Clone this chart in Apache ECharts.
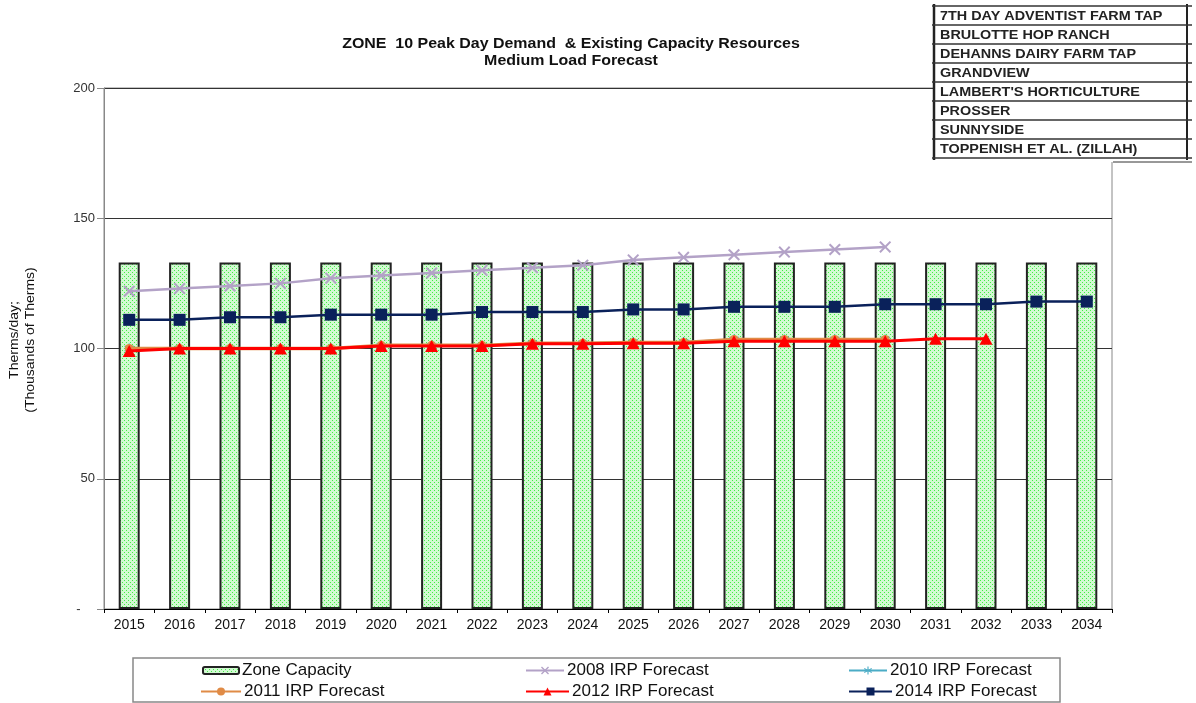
<!DOCTYPE html>
<html><head><meta charset="utf-8">
<script src="https://cdn.jsdelivr.net/npm/echarts@6/dist/echarts.min.js"></script>
<style>html,body{margin:0;padding:0;background:#fff}#c{width:1196px;height:703px}</style>
</head><body><div id="c"></div>
<script>
const years = ['2015','2016','2017','2018','2019','2020','2021','2022','2023','2024','2025','2026','2027','2028','2029','2030','2031','2032','2033','2034'];
const zoneCapacity = [133,133,133,133,133,133,133,133,133,133,133,133,133,133,133,133,133,133,133,133];
const irp2008 = [122,123,124,125,127,128,129,130,131,132,134,135,136,137,138,139];
const irp2010 = [100,100,100,100,100,101,101,101,102,102,102.5,102.5,103.5,103.5,103.5,103.5];
const irp2011 = [100,100,100,100,100,101.2,101.2,101.2,102,102,102.3,102.3,103.5,103.5,103.5,103.5];
const irp2012 = [99,100,100,100,100,101,101,101,101.8,101.8,102,102,102.8,102.8,102.8,102.8,103.7,103.7];
const irp2014 = [111,111,112,112,113,113,113,114,114,114,115,115,116,116,116,117,117,117,118,118];
const yTicks = ['-    ','50','100','150','200'];
const tableRows = ['7TH DAY ADVENTIST FARM TAP','BRULOTTE HOP RANCH','DEHANNS DAIRY FARM TAP','GRANDVIEW',"LAMBERT'S HORTICULTURE",'PROSSER','SUNNYSIDE','TOPPENISH ET AL. (ZILLAH)'];

const FONT = 'Liberation Sans, Arial, sans-serif';
const pc = document.createElement('canvas');
pc.width = 4; pc.height = 4;
const g = pc.getContext('2d');
g.fillStyle = '#d2fad2'; g.fillRect(0,0,4,4);
g.fillStyle = '#44ee44'; g.fillRect(0,0,1,1); g.fillRect(2,2,1,1);
const pattern = {image: pc, repeat: 'repeat'};

const xPath = 'path://M0,1.2L1.2,0L5,3.8L8.8,0L10,1.2L6.2,5L10,8.8L8.8,10L5,6.2L1.2,10L0,8.8L3.8,5Z';
const starPath = 'path://M4.4,0H5.6V3.6L8.7,1.8L9.3,2.8L6.2,4.5L9.3,6.2L8.7,7.2L5.6,5.4V9H4.4V5.4L1.3,7.2L0.7,6.2L3.8,4.5L0.7,2.8L1.3,1.8L4.4,3.6Z';

const chart = echarts.init(document.getElementById('c'), null, {renderer:'canvas'});

const legendPos = [
  {name:'Zone Capacity', left:202, top:662, w:36, h:7},
  {name:'2008 IRP Forecast', left:525, top:662, w:38, h:10},
  {name:'2010 IRP Forecast', left:848, top:662, w:38, h:10},
  {name:'2011 IRP Forecast', left:200, top:683, w:40, h:10},
  {name:'2012 IRP Forecast', left:525, top:683, w:43, h:10},
  {name:'2014 IRP Forecast', left:848, top:683, w:43, h:10}
];

const graphic = [
  {type:'rect', shape:{x:133,y:658,width:927,height:44}, style:{fill:'#fff', stroke:'#888', lineWidth:1.5}, z:-1},
  {type:'text', x:571, y:44, scaleX:1.14, style:{text:'ZONE  10 Peak Day Demand  & Existing Capacity Resources', font:'bold 14px '+FONT, fill:'#111', textAlign:'center', textVerticalAlign:'middle'}},
  {type:'text', x:571, y:61, scaleX:1.14, style:{text:'Medium Load Forecast', font:'bold 14px '+FONT, fill:'#111', textAlign:'center', textVerticalAlign:'middle'}},
  {type:'text', x:23, y:340, rotation:Math.PI/2, scaleX:1.12, style:{text:'Therms/day;\n(Thousands of Therms)', font:'12.5px '+FONT, fill:'#111', textAlign:'center', textVerticalAlign:'middle', lineHeight:16}},
  {type:'rect', shape:{x:933,y:0,width:263,height:162}, style:{fill:'#fff'}, z:50},
  {type:'line', shape:{x1:1113,y1:162,x2:1192,y2:162}, style:{stroke:'#333', lineWidth:1}, z:51},
  {type:'line', shape:{x1:934,y1:4,x2:934,y2:160}, style:{stroke:'#222', lineWidth:2.5}, z:52},
  {type:'line', shape:{x1:1187,y1:4,x2:1187,y2:160}, style:{stroke:'#222', lineWidth:2}, z:52}
];
const rowTop = 6, rowH = 19;
for (let i = 0; i <= tableRows.length; i++) {
  graphic.push({type:'line', shape:{x1:932,y1:rowTop+i*rowH,x2:1192,y2:rowTop+i*rowH}, style:{stroke:'#333', lineWidth:1.5}, z:52});
}
tableRows.forEach((t,i)=>{
  graphic.push({type:'text', x:940, y:rowTop+i*rowH+rowH/2+1, scaleX:1.2, style:{text:t, font:'bold 12px '+FONT, fill:'#222', textVerticalAlign:'middle'}, z:53});
});

const option = {
  backgroundColor:'#fff',
  animation:false,
  grid:{left:104, right:84, top:88, bottom:94, show:true, borderColor:'#888', borderWidth:1, backgroundColor:'transparent'},
  legend: legendPos.map(l=>({data:[l.name], left:l.left, top:l.top, itemWidth:l.w, itemHeight:l.h, itemGap:0, textStyle:{fontSize:17, fontFamily:FONT, color:'#111', lineHeight:17, padding:[0,0,0,-2]}, padding:0, selectedMode:false})),
  xAxis:{type:'category', data:years, boundaryGap:true,
    axisLine:{lineStyle:{color:'#000', width:1}},
    axisTick:{show:true, length:4, lineStyle:{color:'#000'}},
    axisLabel:{fontSize:14, fontFamily:FONT, color:'#111', margin:9}},
  yAxis:{type:'value', min:0, max:200, interval:50,
    axisLine:{show:true, lineStyle:{color:'#888'}},
    axisTick:{show:true, length:7, lineStyle:{color:'#888'}},
    axisLabel:{fontSize:13, fontFamily:FONT, color:'#333', margin:9, formatter:v=>yTicks[v/50]},
    splitLine:{lineStyle:{color:'#333', width:1}}},
  graphic: graphic,
  series:[
    {name:'Zone Capacity', type:'bar', data:zoneCapacity, barWidth:21, itemStyle:{color:pattern, borderColor:'#222', borderWidth:2}, z:1},
    {name:'2008 IRP Forecast', type:'line', data:irp2008, symbol:xPath, symbolSize:12, lineStyle:{color:'#b3a2c7', width:2.5}, itemStyle:{color:'#b3a2c7'}, z:3},
    {name:'2010 IRP Forecast', type:'line', data:irp2010, symbol:starPath, symbolSize:10, lineStyle:{color:'#4bacc6', width:2}, itemStyle:{color:'#4bacc6'}, z:3},
    {name:'2011 IRP Forecast', type:'line', data:irp2011, symbol:'circle', symbolSize:9, lineStyle:{color:'#e08b46', width:3.5}, itemStyle:{color:'#e08b46'}, z:4},
    {name:'2012 IRP Forecast', type:'line', data:irp2012, symbol:'triangle', symbolSize:[13,12], lineStyle:{color:'#ff0000', width:3}, itemStyle:{color:'#ff0000'}, z:5},
    {name:'2014 IRP Forecast', type:'line', data:irp2014, symbol:'rect', symbolSize:12, lineStyle:{color:'#0a215a', width:2.5}, itemStyle:{color:'#0a215a'}, z:6}
  ]
};
chart.setOption(option);
</script></body></html>
